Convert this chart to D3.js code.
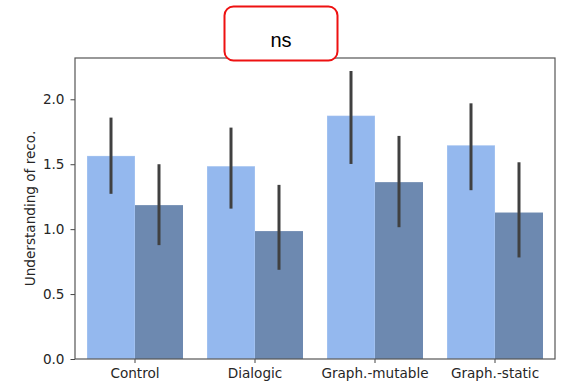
<!DOCTYPE html>
<html>
<head>
<meta charset="utf-8">
<script src="https://cdn.jsdelivr.net/npm/d3@7"></script>
<style>
  html, body { margin: 0; padding: 0; background: #fff; }
  svg { display: block; }
  text { font-family: "DejaVu Sans", sans-serif; }
</style>
</head>
<body>
<svg id="chart" width="562" height="385"></svg>
<script>
// Conditions on the x axis
const categories = ["Control", "Dialogic", "Graph.-mutable", "Graph.-static"];
// Two sub-groups per condition: mean and confidence interval
const seriesA = [1.564, 1.485, 1.874, 1.646];
const seriesALow = [1.272, 1.158, 1.502, 1.300];
const seriesAHigh = [1.859, 1.782, 2.218, 1.969];
const seriesB = [1.185, 0.985, 1.362, 1.128];
const seriesBLow = [0.877, 0.687, 1.015, 0.782];
const seriesBHigh = [1.500, 1.341, 1.718, 1.515];
const yTicks = [0.0, 0.5, 1.0, 1.5, 2.0];
const yLabel = "Understanding of reco.";
const badgeText = "ns";

const series = [
  { key: "a", values: seriesA, low: seriesALow, high: seriesAHigh, color: "#94b8ee", edge: "rgba(255,255,255,0.25)" },
  { key: "b", values: seriesB, low: seriesBLow, high: seriesBHigh, color: "#6d89b0", edge: "none" }
];

const svg = d3.select("#chart");
const m = { left: 75, right: 7, top: 58, bottom: 26 };
const W = 562, H = 385;
const plotW = W - m.left - m.right, plotH = H - m.top - m.bottom;

const x = d3.scaleBand().domain(categories).range([m.left, m.left + plotW]).paddingInner(0.2).paddingOuter(0.1);
const xSub = d3.scaleBand().domain(series.map(s => s.key)).range([0, x.bandwidth()]);
const y = d3.scaleLinear().domain([0, 2.318]).range([m.top + plotH, m.top]);

const g = svg.append("g");

// Bars
series.forEach(s => {
  g.selectAll(null).data(categories).enter().append("rect")
    .attr("x", (c) => x(c) + xSub(s.key))
    .attr("y", (c, i) => y(s.values[i]))
    .attr("width", xSub.bandwidth())
    .attr("height", (c, i) => y(0) - y(s.values[i]))
    .attr("fill", s.color)
    .attr("stroke", s.edge)
    .attr("stroke-width", 1);
});

// Error bars
series.forEach(s => {
  g.selectAll(null).data(categories).enter().append("line")
    .attr("x1", (c) => x(c) + xSub(s.key) + xSub.bandwidth() / 2)
    .attr("x2", (c) => x(c) + xSub(s.key) + xSub.bandwidth() / 2)
    .attr("y1", (c, i) => y(s.low[i]))
    .attr("y2", (c, i) => y(s.high[i]))
    .attr("stroke", "#404040")
    .attr("stroke-width", 3);
});

// Axes
const xAxis = d3.axisBottom(x).tickSizeOuter(0).tickSize(4).tickPadding(5.5);
const yAxis = d3.axisLeft(y).tickValues(yTicks).tickFormat(d3.format(".1f")).tickSizeOuter(0).tickSize(4.5).tickPadding(6);

const gx = svg.append("g").attr("transform", `translate(0,${m.top + plotH})`).call(xAxis);
const gy = svg.append("g").attr("transform", `translate(${m.left},0)`).call(yAxis);
[gx, gy].forEach(a => {
  a.select(".domain").remove();
  a.selectAll(".tick line").attr("stroke", "#444").attr("stroke-width", 1);
  a.selectAll(".tick text").attr("fill", "#262626").style("font-size", "13.6px").style("font-family", "DejaVu Sans, sans-serif");
});

// Frame
svg.append("rect")
  .attr("x", m.left).attr("y", m.top)
  .attr("width", plotW).attr("height", plotH)
  .attr("fill", "none").attr("stroke", "#555").attr("stroke-width", 1.2);

// Y label
svg.append("text")
  .attr("transform", `translate(30,${m.top + plotH / 2}) rotate(-90)`)
  .attr("text-anchor", "middle")
  .attr("dominant-baseline", "central")
  .attr("fill", "#262626")
  .style("font-size", "13.6px")
  .text(yLabel);

// Significance badge
svg.append("rect")
  .attr("x", 224.5).attr("y", 6.5)
  .attr("width", 113).attr("height", 54)
  .attr("rx", 9).attr("ry", 9)
  .attr("fill", "#fff").attr("stroke", "#ee1111").attr("stroke-width", 2);
svg.append("text")
  .attr("x", 281).attr("y", 40)
  .attr("text-anchor", "middle")
  .attr("dominant-baseline", "central")
  .attr("fill", "#000")
  .style("font-family", "Liberation Sans, Arial, sans-serif")
  .style("font-size", "20px")
  .text(badgeText);
</script>
</body>
</html>
